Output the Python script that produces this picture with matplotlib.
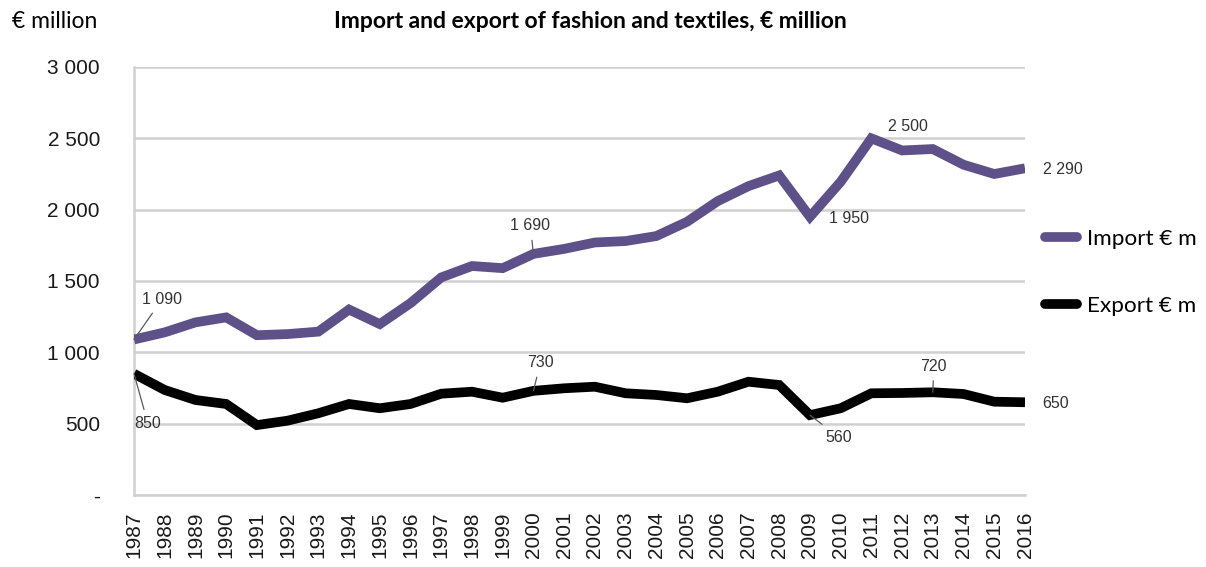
import matplotlib.pyplot as plt
from matplotlib.lines import Line2D

# %% Data

years = list(range(1987, 2017))
importVals = [1090, 1140, 1210, 1245, 1120, 1128, 1145, 1300, 1198, 1345,
              1525, 1605, 1590, 1690, 1725, 1770, 1780, 1815, 1915, 2060,
              2165, 2240, 1950, 2195, 2500, 2415, 2425, 2315, 2250, 2290]
exportVals = [850, 736, 666, 638, 490, 521, 573, 638, 608, 638,
              710, 724, 682, 730, 748, 759, 713, 701, 678, 724,
              794, 771, 560, 608, 713, 715, 720, 708, 654, 650]
yTicks = [0, 500, 1000, 1500, 2000, 2500, 3000]
yTickLabels = ['-', '500', '1 000', '1 500', '2 000', '2 500', '3 000']

# Labelled points: (series, year, text, offset in pixels, leader line)
labelPoints = [('imp', 1987, '1 090', (28, 40), True),
               ('exp', 1987, '850', (14, -50), True),
               ('imp', 2000, '1 690', (-3, 28), True),
               ('exp', 2000, '730', (7, 28), True),
               ('imp', 2009, '1 950', (39, -2), False),
               ('exp', 2009, '560', (29, -22), True),
               ('imp', 2011, '2 500', (37, 12), False),
               ('exp', 2013, '720', (1, 26), True),
               ('imp', 2016, '2 290', (38, -1), False),
               ('exp', 2016, '650', (31, -1), False)]

importColour = '#5e5189'
exportColour = '#000000'
gridColour = '#d0d0d0'
numFont = 'Liberation Sans'
textFont = 'Lato'

# %% Figure

fig = plt.figure(figsize=(12.06, 5.67), dpi=100)
ax = fig.add_axes([134 / 1206, 1 - 495 / 567, 891 / 1206, 428 / 567])

ax.plot(years, importVals, color=importColour, lw=7,
        solid_capstyle='butt', solid_joinstyle='miter', zorder=3)
ax.plot(years, exportVals, color=exportColour, lw=7,
        solid_capstyle='butt', solid_joinstyle='miter', zorder=3)

ax.set_xlim(years[0], years[-1])
ax.set_ylim(0, 3000)

ax.set_yticks(yTicks)
ax.set_yticklabels(yTickLabels, fontsize=15, family=numFont, color='#1a1a1a')
ax.set_xticks(years)
ax.set_xticklabels([str(y) for y in years], rotation=90, fontsize=15,
                   family=numFont, color='#1a1a1a')
ax.tick_params(axis='both', length=0)
ax.tick_params(axis='y', pad=24.5)
ax.tick_params(axis='x', pad=12)

ax.grid(axis='y', color=gridColour, lw=1.8, zorder=0)
ax.set_axisbelow(True)
for side in ['top', 'right']:
    ax.spines[side].set_visible(False)
for side in ['left', 'bottom']:
    ax.spines[side].set_color(gridColour)
    ax.spines[side].set_linewidth(1.8)

# Data labels, some with thin leader lines back to the point
for series, yr, txt, off, leader in labelPoints:
    vals = importVals if series == 'imp' else exportVals
    val = vals[years.index(yr)]
    arrow = dict(arrowstyle='-', color='#5a5a5a', lw=0.9,
                 shrinkA=3, shrinkB=0) if leader else None
    ax.annotate(txt, xy=(yr, val), xytext=off, textcoords='offset pixels',
                ha='center', va='center', fontsize=11.5, family=numFont,
                color='#333333', arrowprops=arrow, annotation_clip=False,
                zorder=4)

# Titles
fig.text(590 / 1206, 1 - 21 / 567, 'Import and export of fashion and textiles, € million',
         ha='center', va='center', fontsize=16.5, fontweight='bold',
         family=textFont)
fig.text(12 / 1206, 1 - 21 / 567, '€ million', ha='left', va='center',
         fontsize=16.5, family=textFont)

# Legend
handles = [Line2D([], [], color=importColour, lw=7, solid_capstyle='round'),
           Line2D([], [], color=exportColour, lw=7, solid_capstyle='round')]
fig.legend(handles, ['Import € m', 'Export € m'], loc='center left',
           bbox_to_anchor=(1045 / 1206, 1 - 272.5 / 567),
           prop={'family': textFont, 'size': 16.2}, frameon=False,
           handlelength=1.4, handletextpad=0.45, labelspacing=2.1,
           borderpad=0, borderaxespad=0)

fig.savefig('out.png', dpi=100, facecolor='white')
